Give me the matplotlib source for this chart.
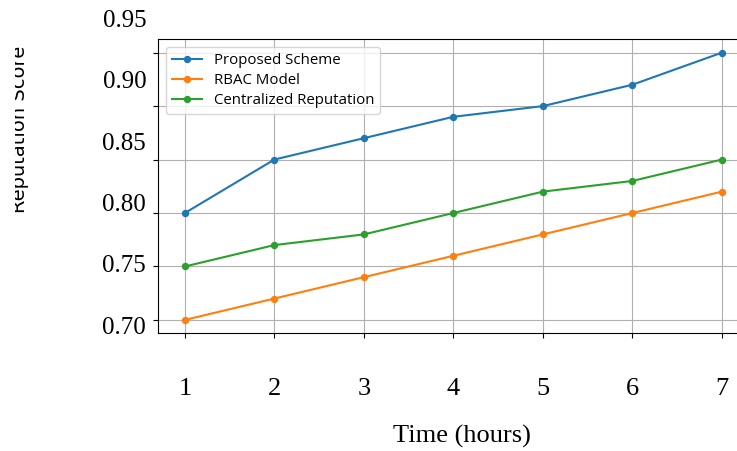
import numpy as np
import matplotlib
matplotlib.use("Agg")
import matplotlib.pyplot as plt
from matplotlib.transforms import Bbox, TransformedBbox

# data
hours = [1, 2, 3, 4, 5, 6, 7]
proposed = [0.80, 0.85, 0.87, 0.89, 0.90, 0.92, 0.95]
rbac = [0.70, 0.72, 0.74, 0.76, 0.78, 0.80, 0.82]
centralized = [0.75, 0.77, 0.78, 0.80, 0.82, 0.83, 0.85]
series_names = ['Proposed Scheme', 'RBAC Model', 'Centralized Reputation']
yticks = [0.70, 0.75, 0.80, 0.85, 0.90, 0.95]

serif = 'Liberation Serif'

fig = plt.figure(figsize=(7.37, 4.51), dpi=100)
ax = fig.add_axes([0.2144, 0.2610, 0.8015, 0.6519])

ax.plot(hours, proposed, marker='o', markersize=4.3, color='tab:blue', label=series_names[0])
ax.plot(hours, rbac, marker='o', markersize=4.3, color='tab:orange', label=series_names[1])
ax.plot(hours, centralized, marker='o', markersize=4.3, color='tab:green', label=series_names[2])

ax.grid(True)
ax.spines['right'].set_visible(False)
ax.set_xticks(hours)
ax.set_xticklabels([str(h) for h in hours], fontfamily=serif, fontsize=19)
ax.tick_params(axis='x', pad=29)

# y tick labels: drawn as text, spread a bit wider than the ticks like the original
ax.set_yticks(yticks)
ax.set_yticklabels([])
ytrans = ax.get_yaxis_transform()
for v in yticks:
    ax.text(-0.02, 0.75 + (v - 0.75) * 1.15, '%.2f' % v, transform=ytrans,
            ha='right', va='center', fontfamily=serif, fontsize=18, clip_on=False)

ax.set_xlabel('Time (hours)', fontfamily=serif, fontsize=19, va='top')
ax.xaxis.set_label_coords(0.5146, -0.312)

ylab = fig.text(20 / 737, 0.714, 'Reputation Score', rotation=90,
                ha='center', va='center', fontsize=14)
ylab.set_clip_box(TransformedBbox(Bbox([[15 / 737, 0], [1, 1]]), fig.transFigure))
ylab.set_clip_on(True)

ax.legend(loc='upper left', prop={'family': 'Open Sans', 'size': 10.8},
          labelspacing=0.35)

fig.savefig('out.png', dpi=100)
